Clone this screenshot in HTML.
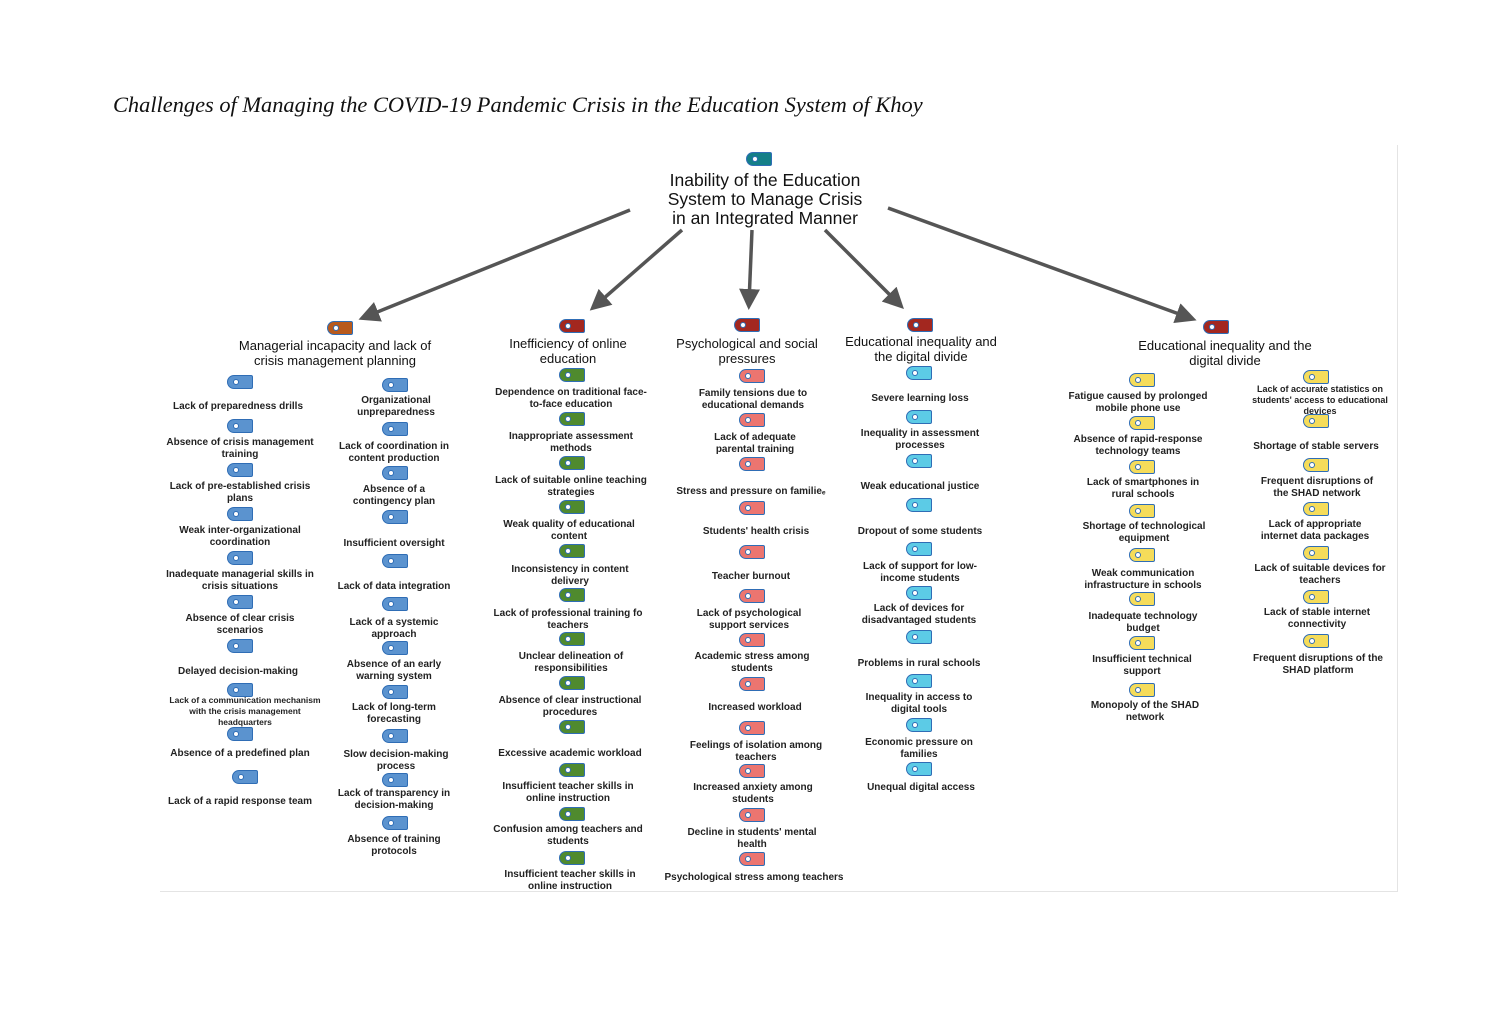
<!DOCTYPE html>
<html><head><meta charset="utf-8"><style>
html,body{margin:0;padding:0;background:#fff;}
body{width:1485px;height:1022px;position:relative;overflow:hidden;font-family:"Liberation Sans",Arial,sans-serif;}
.title{position:absolute;left:113px;top:92px;font-family:"Liberation Serif",serif;font-style:italic;font-size:22.4px;color:#111;white-space:nowrap;}
.frame{position:absolute;left:160px;top:145px;width:1237px;height:746px;border-right:1px solid #e4e4e4;border-bottom:1px solid #e4e4e4;}
.t{position:absolute;width:24px;height:12px;border:1.8px solid #2f6db5;border-radius:7px 2px 2px 7px;box-sizing:content-box;}
.t::after{content:"";position:absolute;left:5px;top:3px;width:4px;height:4px;border:1.3px solid #2f6db5;background:#fff;border-radius:50%;}
.b{background:#5b93cf;}.o{background:#b85a1c;}.r{background:#a3271f;}.g{background:#4f8a2e;}.p{background:#ec7570;}.c{background:#5ccbe6;}.y{background:#f5dc5a;}.tl{background:#147f88;}
.l{position:absolute;transform:translateX(-50%);text-align:center;font-size:10px;font-weight:bold;line-height:12px;color:#222;white-space:nowrap;}
.h{position:absolute;transform:translateX(-50%);text-align:center;font-size:13px;line-height:15px;color:#111;white-space:nowrap;}
.root{position:absolute;transform:translateX(-50%);text-align:center;font-size:17.5px;line-height:19px;color:#111;white-space:nowrap;}
svg{position:absolute;left:0;top:0;}
</style></head><body>
<div class="title">Challenges of Managing the COVID-19 Pandemic Crisis in the Education System of Khoy</div>
<div class="frame"></div>
<svg width="1485" height="1022">
<defs><marker id="a" markerWidth="6" markerHeight="6" refX="4" refY="3" orient="auto" markerUnits="strokeWidth"><path d="M0,0 L6,3 L0,6 Z" fill="#555"/></marker></defs>
<g stroke="#555" stroke-width="3.5" fill="none" marker-end="url(#a)">
<line x1="630" y1="210" x2="365" y2="317"/>
<line x1="682" y1="230" x2="595" y2="306"/>
<line x1="752" y1="230" x2="749" y2="303"/>
<line x1="825" y1="230" x2="899" y2="304"/>
<line x1="888" y1="208" x2="1190" y2="318"/>
</g></svg>

<div class="t tl" style="left:746px;top:152px"></div>
<div class="root" style="left:765px;top:171px">Inability of the Education<br>System to Manage Crisis<br>in an Integrated Manner</div>

<!-- headers -->
<div class="t o" style="left:327px;top:321px"></div>
<div class="h" style="left:335px;top:338px">Managerial incapacity and lack of<br>crisis management planning</div>
<div class="t r" style="left:559px;top:319px"></div>
<div class="h" style="left:568px;top:336px">Inefficiency of online<br>education</div>
<div class="t r" style="left:734px;top:318px"></div>
<div class="h" style="left:747px;top:336px">Psychological and social<br>pressures</div>
<div class="t r" style="left:907px;top:318px"></div>
<div class="h" style="left:921px;top:334px">Educational inequality and<br>the digital divide</div>
<div class="t r" style="left:1203px;top:320px"></div>
<div class="h" style="left:1225px;top:338px">Educational inequality and the<br>digital divide</div>

<!-- col1 -->
<div class="t b" style="left:227px;top:375px"></div><div class="l" style="left:238px;top:401px">Lack of preparedness drills</div>
<div class="t b" style="left:227px;top:419px"></div><div class="l" style="left:240px;top:437px">Absence of crisis management<br>training</div>
<div class="t b" style="left:227px;top:463px"></div><div class="l" style="left:240px;top:481px">Lack of pre-established crisis<br>plans</div>
<div class="t b" style="left:227px;top:507px"></div><div class="l" style="left:240px;top:525px">Weak inter-organizational<br>coordination</div>
<div class="t b" style="left:227px;top:551px"></div><div class="l" style="left:240px;top:569px">Inadequate managerial skills in<br>crisis situations</div>
<div class="t b" style="left:227px;top:595px"></div><div class="l" style="left:240px;top:613px">Absence of clear crisis<br>scenarios</div>
<div class="t b" style="left:227px;top:639px"></div><div class="l" style="left:238px;top:666px">Delayed decision-making</div>
<div class="t b" style="left:227px;top:683px"></div><div class="l" style="left:245px;top:695px;font-size:8.5px;line-height:11px">Lack of a communication mechanism<br>with the crisis management<br>headquarters</div>
<div class="t b" style="left:227px;top:727px"></div><div class="l" style="left:240px;top:748px">Absence of a predefined plan</div>
<div class="t b" style="left:232px;top:770px"></div><div class="l" style="left:240px;top:796px">Lack of a rapid response team</div>

<!-- col2 -->
<div class="t b" style="left:382px;top:378px"></div><div class="l" style="left:396px;top:395px">Organizational<br>unpreparedness</div>
<div class="t b" style="left:382px;top:422px"></div><div class="l" style="left:394px;top:441px">Lack of coordination in<br>content production</div>
<div class="t b" style="left:382px;top:466px"></div><div class="l" style="left:394px;top:484px">Absence of a<br>contingency plan</div>
<div class="t b" style="left:382px;top:510px"></div><div class="l" style="left:394px;top:538px">Insufficient oversight</div>
<div class="t b" style="left:382px;top:554px"></div><div class="l" style="left:394px;top:581px">Lack of data integration</div>
<div class="t b" style="left:382px;top:597px"></div><div class="l" style="left:394px;top:617px">Lack of a systemic<br>approach</div>
<div class="t b" style="left:382px;top:641px"></div><div class="l" style="left:394px;top:659px">Absence of an early<br>warning system</div>
<div class="t b" style="left:382px;top:685px"></div><div class="l" style="left:394px;top:702px">Lack of long-term<br>forecasting</div>
<div class="t b" style="left:382px;top:729px"></div><div class="l" style="left:396px;top:749px">Slow decision-making<br>process</div>
<div class="t b" style="left:382px;top:773px"></div><div class="l" style="left:394px;top:788px">Lack of transparency in<br>decision-making</div>
<div class="t b" style="left:382px;top:816px"></div><div class="l" style="left:394px;top:834px">Absence of training<br>protocols</div>

<!-- col3 -->
<div class="t g" style="left:559px;top:368px"></div><div class="l" style="left:571px;top:387px">Dependence on traditional face-<br>to-face education</div>
<div class="t g" style="left:559px;top:412px"></div><div class="l" style="left:571px;top:431px">Inappropriate assessment<br>methods</div>
<div class="t g" style="left:559px;top:456px"></div><div class="l" style="left:571px;top:475px">Lack of suitable online teaching<br>strategies</div>
<div class="t g" style="left:559px;top:500px"></div><div class="l" style="left:569px;top:519px">Weak quality of educational<br>content</div>
<div class="t g" style="left:559px;top:544px"></div><div class="l" style="left:570px;top:564px">Inconsistency in content<br>delivery</div>
<div class="t g" style="left:559px;top:588px"></div><div class="l" style="left:568px;top:608px">Lack of professional training fo<br>teachers</div>
<div class="t g" style="left:559px;top:632px"></div><div class="l" style="left:571px;top:651px">Unclear delineation of<br>responsibilities</div>
<div class="t g" style="left:559px;top:676px"></div><div class="l" style="left:570px;top:695px">Absence of clear instructional<br>procedures</div>
<div class="t g" style="left:559px;top:720px"></div><div class="l" style="left:570px;top:748px">Excessive academic workload</div>
<div class="t g" style="left:559px;top:763px"></div><div class="l" style="left:568px;top:781px">Insufficient teacher skills in<br>online instruction</div>
<div class="t g" style="left:559px;top:807px"></div><div class="l" style="left:568px;top:824px">Confusion among teachers and<br>students</div>
<div class="t g" style="left:559px;top:851px"></div><div class="l" style="left:570px;top:869px">Insufficient teacher skills in<br>online instruction</div>

<!-- col4 -->
<div class="t p" style="left:739px;top:369px"></div><div class="l" style="left:753px;top:388px">Family tensions due to<br>educational demands</div>
<div class="t p" style="left:739px;top:413px"></div><div class="l" style="left:755px;top:432px">Lack of adequate<br>parental training</div>
<div class="t p" style="left:739px;top:457px"></div><div class="l" style="left:751px;top:486px">Stress and pressure on familie&#x2091;</div>
<div class="t p" style="left:739px;top:501px"></div><div class="l" style="left:756px;top:526px">Students' health crisis</div>
<div class="t p" style="left:739px;top:545px"></div><div class="l" style="left:751px;top:571px">Teacher burnout</div>
<div class="t p" style="left:739px;top:589px"></div><div class="l" style="left:749px;top:608px">Lack of psychological<br>support services</div>
<div class="t p" style="left:739px;top:633px"></div><div class="l" style="left:752px;top:651px">Academic stress among<br>students</div>
<div class="t p" style="left:739px;top:677px"></div><div class="l" style="left:755px;top:702px">Increased workload</div>
<div class="t p" style="left:739px;top:721px"></div><div class="l" style="left:756px;top:740px">Feelings of isolation among<br>teachers</div>
<div class="t p" style="left:739px;top:764px"></div><div class="l" style="left:753px;top:782px">Increased anxiety among<br>students</div>
<div class="t p" style="left:739px;top:808px"></div><div class="l" style="left:752px;top:827px">Decline in students' mental<br>health</div>
<div class="t p" style="left:739px;top:852px"></div><div class="l" style="left:754px;top:872px">Psychological stress among teachers</div>

<!-- col5 -->
<div class="t c" style="left:906px;top:366px"></div><div class="l" style="left:920px;top:393px">Severe learning loss</div>
<div class="t c" style="left:906px;top:410px"></div><div class="l" style="left:920px;top:428px">Inequality in assessment<br>processes</div>
<div class="t c" style="left:906px;top:454px"></div><div class="l" style="left:920px;top:481px">Weak educational justice</div>
<div class="t c" style="left:906px;top:498px"></div><div class="l" style="left:920px;top:526px">Dropout of some students</div>
<div class="t c" style="left:906px;top:542px"></div><div class="l" style="left:920px;top:561px">Lack of support for low-<br>income students</div>
<div class="t c" style="left:906px;top:586px"></div><div class="l" style="left:919px;top:603px">Lack of devices for<br>disadvantaged students</div>
<div class="t c" style="left:906px;top:630px"></div><div class="l" style="left:919px;top:658px">Problems in rural schools</div>
<div class="t c" style="left:906px;top:674px"></div><div class="l" style="left:919px;top:692px">Inequality in access to<br>digital tools</div>
<div class="t c" style="left:906px;top:718px"></div><div class="l" style="left:919px;top:737px">Economic pressure on<br>families</div>
<div class="t c" style="left:906px;top:762px"></div><div class="l" style="left:921px;top:782px">Unequal digital access</div>

<!-- col6 -->
<div class="t y" style="left:1129px;top:373px"></div><div class="l" style="left:1138px;top:391px">Fatigue caused by prolonged<br>mobile phone use</div>
<div class="t y" style="left:1129px;top:416px"></div><div class="l" style="left:1138px;top:434px">Absence of rapid-response<br>technology teams</div>
<div class="t y" style="left:1129px;top:460px"></div><div class="l" style="left:1143px;top:477px">Lack of smartphones in<br>rural schools</div>
<div class="t y" style="left:1129px;top:504px"></div><div class="l" style="left:1144px;top:521px">Shortage of technological<br>equipment</div>
<div class="t y" style="left:1129px;top:548px"></div><div class="l" style="left:1143px;top:568px">Weak communication<br>infrastructure in schools</div>
<div class="t y" style="left:1129px;top:592px"></div><div class="l" style="left:1143px;top:611px">Inadequate technology<br>budget</div>
<div class="t y" style="left:1129px;top:636px"></div><div class="l" style="left:1142px;top:654px">Insufficient technical<br>support</div>
<div class="t y" style="left:1129px;top:683px"></div><div class="l" style="left:1145px;top:700px">Monopoly of the SHAD<br>network</div>

<!-- col7 -->
<div class="t y" style="left:1303px;top:370px"></div><div class="l" style="left:1320px;top:384px;font-size:9px;line-height:11px">Lack of accurate statistics on<br>students' access to educational<br>devices</div>
<div class="t y" style="left:1303px;top:414px"></div><div class="l" style="left:1316px;top:441px">Shortage of stable servers</div>
<div class="t y" style="left:1303px;top:458px"></div><div class="l" style="left:1317px;top:476px">Frequent disruptions of<br>the SHAD network</div>
<div class="t y" style="left:1303px;top:502px"></div><div class="l" style="left:1315px;top:519px">Lack of appropriate<br>internet data packages</div>
<div class="t y" style="left:1303px;top:546px"></div><div class="l" style="left:1320px;top:563px">Lack of suitable devices for<br>teachers</div>
<div class="t y" style="left:1303px;top:590px"></div><div class="l" style="left:1317px;top:607px">Lack of stable internet<br>connectivity</div>
<div class="t y" style="left:1303px;top:634px"></div><div class="l" style="left:1318px;top:653px">Frequent disruptions of the<br>SHAD platform</div>
</body></html>
